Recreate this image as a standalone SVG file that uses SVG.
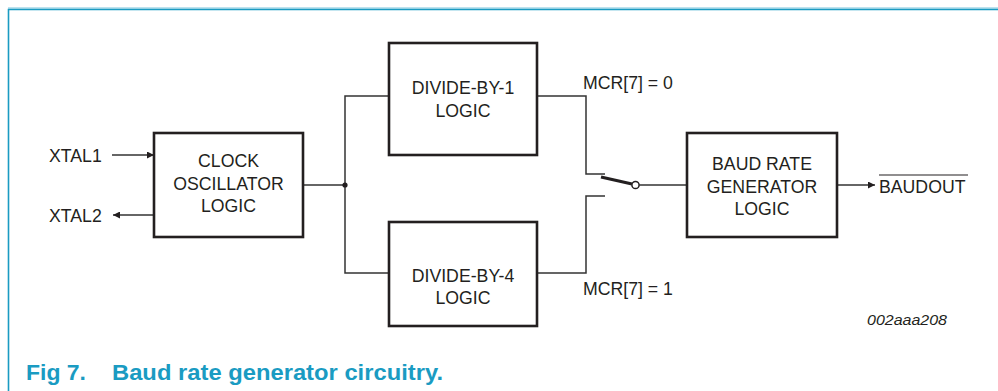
<svg xmlns="http://www.w3.org/2000/svg" width="998" height="391" viewBox="0 0 998 391">
<style>
.box{fill:#fff;stroke:#231f20;stroke-width:2.6}
.wire{fill:none;stroke:#333;stroke-width:1.5}
.t{font-family:"Liberation Sans",Arial,sans-serif;font-size:17.7px;fill:#231f20;text-anchor:middle}
.l{font-family:"Liberation Sans",Arial,sans-serif;font-size:17.7px;fill:#231f20}
.cap{font-family:"Liberation Sans",Arial,sans-serif;font-size:22.5px;font-weight:bold;fill:#1a9bc2}
</style>
<defs>
<marker id="arr" viewBox="0 0 10 10" refX="10" refY="5" markerWidth="9" markerHeight="7" markerUnits="userSpaceOnUse" orient="auto">
<path d="M0,0 L10,5 L0,10 z" fill="#231f20"/>
</marker>
</defs>
<g id="frame">
<line x1="8" y1="8" x2="998" y2="8" stroke="#a6d9e8" stroke-width="1.5"/>
<polyline points="8.5,391 8.5,9.5 998,9.5" fill="none" stroke="#1a9bc2" stroke-width="1.6"/>
</g>
<g id="connectors">
<line class="wire" x1="112" y1="155" x2="154" y2="155" marker-end="url(#arr)"/>
<line class="wire" x1="154" y1="215" x2="113" y2="215" marker-end="url(#arr)"/>
<line class="wire" x1="303" y1="185" x2="345" y2="185"/>
<polyline class="wire" points="389,96 345,96 345,273 389,273"/>
<circle cx="345" cy="185" r="2.6" fill="#231f20"/>
<polyline class="wire" points="537,96 586,96 586,174 605,174"/>
<polyline class="wire" points="537,273 586,273 586,196 605,196"/>
<line x1="601" y1="177" x2="632" y2="184" stroke="#231f20" stroke-width="3.2"/>
<circle cx="635.5" cy="185" r="3.6" fill="#fff" stroke="#231f20" stroke-width="1.5"/>
<line class="wire" x1="639" y1="185" x2="687" y2="185"/>
<line class="wire" x1="837" y1="185" x2="875" y2="185" marker-end="url(#arr)"/>
</g>
<g id="xtal1"><text class="l" x="49" y="162">XTAL1</text></g>
<g id="xtal2"><text class="l" x="49" y="222">XTAL2</text></g>
<g id="clock">
<rect class="box" x="154" y="133" width="149" height="104"/>
<text class="t" x="228.5" y="167">CLOCK</text>
<text class="t" x="228.5" y="190">OSCILLATOR</text>
<text class="t" x="228.5" y="212">LOGIC</text>
</g>
<g id="div1">
<rect class="box" x="389" y="43" width="148" height="112"/>
<text class="t" x="463" y="94">DIVIDE-BY-1</text>
<text class="t" x="463" y="117">LOGIC</text>
</g>
<g id="div4">
<rect class="box" x="389" y="222" width="148" height="104"/>
<text class="t" x="463" y="282">DIVIDE-BY-4</text>
<text class="t" x="463" y="304">LOGIC</text>
</g>
<g id="mcr0"><text class="l" x="583" y="89">MCR[7] = 0</text></g>
<g id="mcr1"><text class="l" x="583" y="295">MCR[7] = 1</text></g>
<g id="baud">
<rect class="box" x="687" y="133" width="150" height="104"/>
<text class="t" x="762" y="170">BAUD RATE</text>
<text class="t" x="762" y="193">GENERATOR</text>
<text class="t" x="762" y="215">LOGIC</text>
</g>
<g id="baudout">
<text class="l" x="879" y="193">BAUDOUT</text>
<line x1="879" y1="175" x2="968" y2="175" stroke="#231f20" stroke-width="1.2"/>
</g>
<g id="ref"><text class="l" x="867" y="325" font-style="italic" style="font-size:15.5px" textLength="80" lengthAdjust="spacingAndGlyphs">002aaa208</text></g>
<g id="caption">
<text class="cap" x="26" y="380" textLength="60" lengthAdjust="spacingAndGlyphs">Fig 7.</text>
<text class="cap" x="112" y="380" textLength="331" lengthAdjust="spacingAndGlyphs">Baud rate generator circuitry.</text>
</g>
</svg>
